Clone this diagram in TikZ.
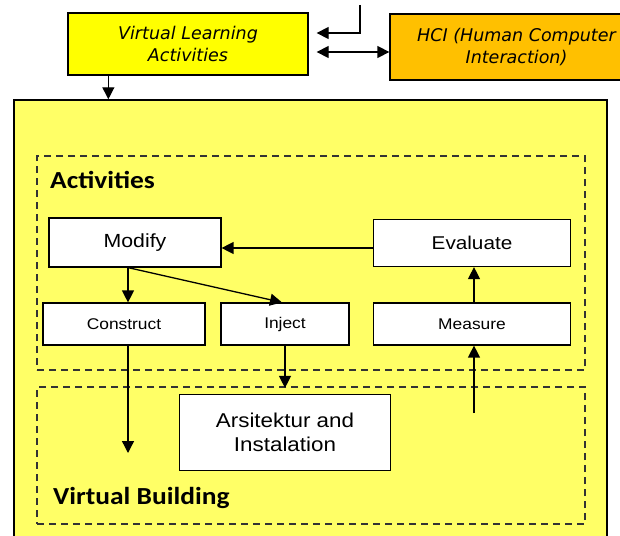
\documentclass[tikz,border=0pt]{standalone}
\usepackage{fontspec}
\setmainfont{Liberation Sans}[FakeStretch=1.12]
\newfontfamily\hcifont{DejaVu Sans}
\newfontfamily\zonefont{Carlito}[FakeStretch=1.12]
\usetikzlibrary{arrows.meta}
\definecolor{vlayellow}{HTML}{FFFF00}
\definecolor{hciorange}{HTML}{FFC000}
\definecolor{labyellow}{HTML}{FFFF66}
\tikzset{>={Triangle[width=12pt,length=12pt]}}

\begin{document}
\begin{tikzpicture}[x=1pt,y=-1pt]
  \tikzstyle{topbox} = [draw, line width=1.3pt, align=center, inner sep=0pt, font=\hcifont\itshape\fontsize{17.5}{22}\selectfont]
  \tikzstyle{abox} = [draw, fill=white, line width=1.2pt, inner sep=0pt, align=center]
  \tikzstyle{zone} = [draw=black!80, line width=1.3pt, dash pattern=on 7pt off 5pt, inner sep=0pt]
  \tikzstyle{zonetitle} = [anchor=base west, inner sep=0pt, font=\zonefont\bfseries\fontsize{24.5}{28}\selectfont]
  \tikzstyle{link} = [->, line width=1.3pt]

  \path[use as bounding box, clip] (0,0) rectangle (620,535);

  \node[topbox, fill=vlayellow, minimum width=240pt, minimum height=62pt] (vla) at (188, 44) {Virtual Learning\\Activities};
  \node[topbox, fill=hciorange, minimum width=253pt, minimum height=66pt] (hci) at (516.5, 47) {HCI (Human Computer\\Interaction)};

  \node[draw, fill=labyellow, line width=1.5pt, minimum width=593pt, minimum height=440pt] (lab) at (310.5, 320) {};
  \node[zone, minimum width=548pt, minimum height=214pt] (act) at (311, 263) {};
  \node[zone, minimum width=548pt, minimum height=137pt] (vb) at (311, 455.5) {};
  \node[zonetitle] (acttext) at (50, 188) {Activities};
  \node[zonetitle] (vbtext) at (53, 504) {Virtual Building};

  \node[abox, minimum width=172pt, minimum height=49pt, font=\fontsize{19}{23}\selectfont] (modify) at (135, 242.5) {Modify};
  \node[abox, minimum width=197pt, minimum height=47pt, font=\fontsize{18.5}{23}\selectfont] (evaluate) at (472, 243) {Evaluate};
  \node[abox, minimum width=162pt, minimum height=42pt, font=\fontsize{15.5}{19}\selectfont] (construct) at (124, 324) {Construct};
  \node[abox, minimum width=128pt, minimum height=42pt, font=\fontsize{15.5}{19}\selectfont] (inject) at (285, 324) {Inject};
  \node[abox, minimum width=197pt, minimum height=42pt, font=\fontsize{15.5}{19}\selectfont] (measure) at (472, 324) {Measure};
  \node[abox, minimum width=211pt, minimum height=76pt, font=\fontsize{20}{24}\selectfont] (arsi) at (285, 432.5) {Arsitektur and\\Instalation};

  \coordinate (feed) at (360, 5);
  \coordinate (cend) at (128, 453);
  \coordinate (mstart) at (474, 413);

  \draw[link] (feed) |- ([shift={(8,-11)}]vla.east);
  \draw[link, <->] ([shift={(8,8)}]vla.east) -- ([shift={(0,5)}]hci.west);
  \draw[link] ([xshift=41pt]vla.south west) -- ([xshift=41pt]vla.south west |- lab.north);

  \draw[link] ([shift={(0,5)}]evaluate.west) -- ([shift={(0,5)}]evaluate.west -| modify.east);
  \draw[link] ([xshift=-7pt]modify.south) -- ([xshift=-7pt]modify.south |- construct.north);
  \draw[link] ([xshift=-7pt]modify.south) -- ([xshift=-3pt]inject.north);
  \draw[link] ([xshift=2pt]measure.north) -- ([xshift=2pt]measure.north |- evaluate.south);
  \draw[link] ([xshift=4pt]construct.south) -- (cend);
  \draw[link] (inject.south) -- ([yshift=6pt]arsi.north);
  \draw[link] (mstart) -- (mstart |- measure.south);
\end{tikzpicture}
\end{document}
